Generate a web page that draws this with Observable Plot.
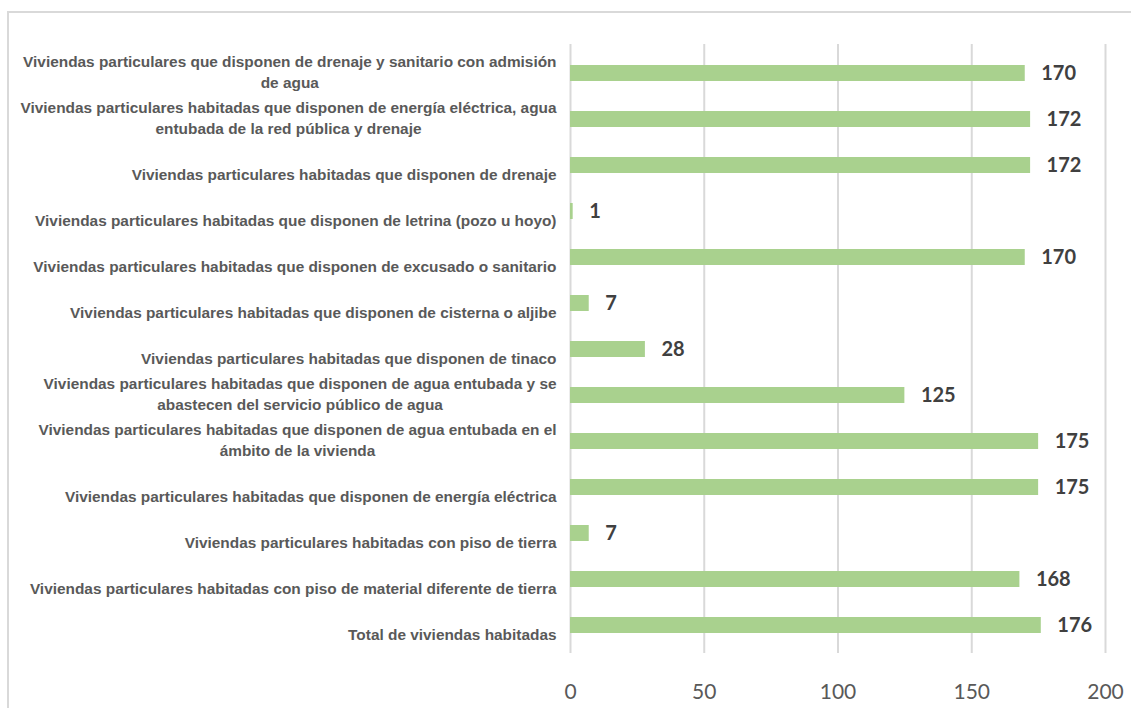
<!DOCTYPE html>
<html>
<head>
<meta charset="utf-8">
<script src="https://cdn.jsdelivr.net/npm/d3@7"></script>
<script src="https://cdn.jsdelivr.net/npm/@observablehq/plot@0.6"></script>
<style>
  html, body { margin: 0; padding: 0; background: #fff; overflow: hidden; }
  #wrap { position: relative; width: 1131px; height: 708px; overflow: hidden; }
  #frame { position: absolute; left: 7px; top: 11px; width: 1200px; height: 800px; border: 2px solid #d9d9d9; box-sizing: border-box; }
  #chart { position: absolute; left: 0; top: 0; }
</style>
</head>
<body>
<div id="wrap"><div id="frame"></div><div id="chart"></div></div>
<script>
const categories = [
  "Viviendas particulares que disponen de drenaje y sanitario con admisión\nde agua",
  "Viviendas particulares habitadas que disponen de energía eléctrica, agua\nentubada de la red pública y drenaje",
  "Viviendas particulares habitadas que disponen de drenaje",
  "Viviendas particulares habitadas que disponen de letrina (pozo u hoyo)",
  "Viviendas particulares habitadas que disponen de excusado o sanitario",
  "Viviendas particulares habitadas que disponen de cisterna o aljibe",
  "Viviendas particulares habitadas que disponen de tinaco",
  "Viviendas particulares habitadas que disponen de agua entubada y se\nabastecen del servicio público de agua",
  "Viviendas particulares habitadas que disponen de agua entubada en el\námbito de la vivienda",
  "Viviendas particulares habitadas que disponen de energía eléctrica",
  "Viviendas particulares habitadas con piso de tierra",
  "Viviendas particulares habitadas con piso de material diferente de tierra",
  "Total de viviendas habitadas"
];
const values = [170, 172, 172, 1, 170, 7, 28, 125, 175, 175, 7, 168, 176];
const xTicks = [0, 50, 100, 150, 200];

const rows = categories.map((c, i) => ({label: c, value: values[i]}));

const labelFont = '"Liberation Sans Narrow", "Arial Narrow", "Liberation Sans", Arial, sans-serif';
const labelSize = 15.4;
const labelWeight = "bold";
const ctx = document.createElement("canvas").getContext("2d");
ctx.font = `${labelWeight} ${labelSize}px ${labelFont}`;
const measure = s => Math.max(...s.split("\n").map(l => ctx.measureText(l).width));

const gap = 14;
const single = rows.filter(r => !r.label.includes("\n"));
const multi = rows.filter(r => r.label.includes("\n"));

const labelCommon = {
  fontFamily: labelFont, fontSize: labelSize, fontWeight: labelWeight, fill: "#595959"
};

const marks = [
  Plot.ruleX(xTicks.filter(d => d > 0), {stroke: "#d9d9d9", strokeWidth: 2}),
  Plot.ruleX([0], {stroke: "#d9d9d9", strokeWidth: 2}),
  Plot.barX(rows, {y: "label", x: "value", fill: "#a9d18e"}),
  Plot.text(rows, {y: "label", x: "value", text: d => String(d.value), textAnchor: "start", dx: 16,
    fontFamily: "Lato, 'Open Sans', sans-serif", fontWeight: "bold", fontSize: 20, fill: "#404040"}),
  Plot.text(single, {y: "label", x: 0, text: "label", textAnchor: "end", dx: -gap, dy: 10, ...labelCommon}),
  ...multi.map(r => Plot.text([r], {y: "label", x: 0, text: "label", textAnchor: "middle", lineHeight: 1.37,
    dx: -gap - measure(r.label) / 2, dy: -3, ...labelCommon})),
  Plot.axisX(xTicks, {tickSize: 0, tickPadding: 31, fontSize: 21, fontFamily: "Lato, 'Open Sans', sans-serif",
    fill: "#595959", color: "#595959", label: null})
];

const chart = Plot.plot({
  width: 1131,
  height: 708,
  marginLeft: 570,
  marginRight: 26,
  marginTop: 44,
  marginBottom: 55,
  style: {background: "transparent", overflow: "visible"},
  x: {domain: [0, 200], label: null},
  y: {domain: categories, paddingInner: 0.655, paddingOuter: 0.344, axis: null, label: null},
  marks
});
document.getElementById("chart").appendChild(chart);
</script>
</body>
</html>
